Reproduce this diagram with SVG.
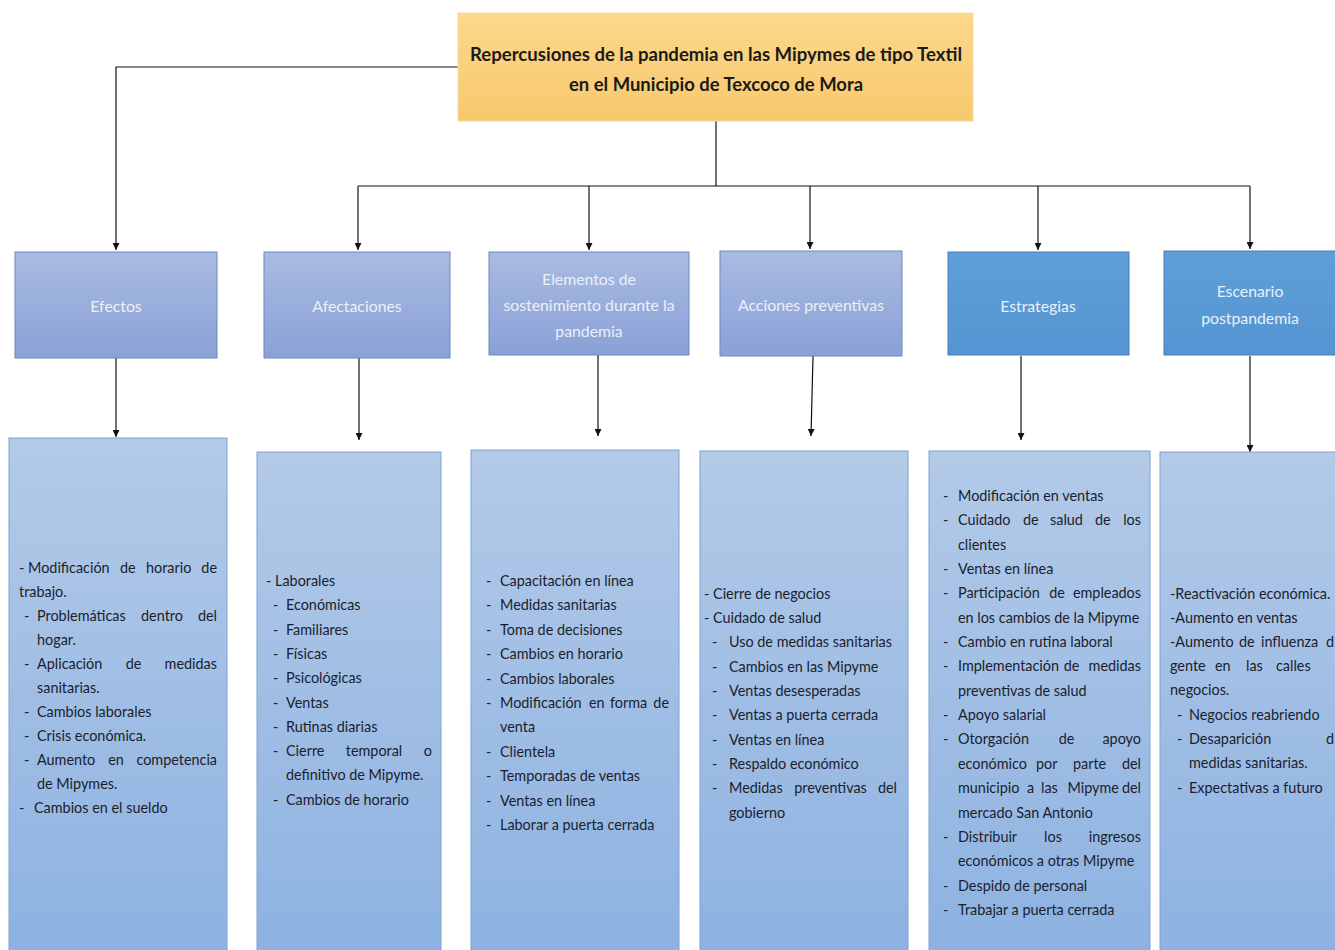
<svg xmlns="http://www.w3.org/2000/svg" width="1335" height="950" viewBox="0 0 1335 950">
<defs>
<linearGradient id="gTitle" x1="0" y1="0" x2="0" y2="1"><stop offset="0" stop-color="#FCD88A"/><stop offset="1" stop-color="#F8C86E"/></linearGradient>
<linearGradient id="gLav" x1="0" y1="0" x2="0" y2="1"><stop offset="0" stop-color="#A9BBE2"/><stop offset="1" stop-color="#8AA1D7"/></linearGradient>
<linearGradient id="gBlue" x1="0" y1="0" x2="0" y2="1"><stop offset="0" stop-color="#5F9FD8"/><stop offset="1" stop-color="#5494D2"/></linearGradient>
<linearGradient id="gBody" x1="0" y1="0" x2="0" y2="1"><stop offset="0" stop-color="#B3CAE8"/><stop offset="1" stop-color="#8DB2E1"/></linearGradient>
<marker id="arr" viewBox="0 0 10 10" refX="10" refY="5" markerWidth="7" markerHeight="7" orient="auto" markerUnits="userSpaceOnUse"><path d="M0,0 L10,5 L0,10 z" fill="#111"/></marker>
</defs>
<style>
.title{font-family:Lato,"Liberation Sans",sans-serif;font-weight:bold;font-size:19px;fill:#1a1a1a;text-anchor:middle}
.head{font-family:Lato,"Liberation Sans",sans-serif;font-size:15.8px;fill:#EBF0F9;text-anchor:middle}
.body{font-family:Lato,"Liberation Sans",sans-serif;font-size:14.4px;fill:#1B1E2E}
.e{text-anchor:end}
.m{text-anchor:middle}
.lav{fill:url(#gLav);stroke:#6F88BE;stroke-width:1}
.blue{fill:url(#gBlue);stroke:#4A7FB5;stroke-width:1}
.bx{fill:url(#gBody);stroke:#7FA2D2;stroke-width:1}
.c{fill:none;stroke:#111;stroke-width:1.2}
</style>
<rect width="1335" height="950" fill="#FFFFFF"/>

<g id="connectors">
<path class="c" d="M458,67 H116 V250" marker-end="url(#arr)"/>
<path class="c" d="M716,121 V186"/>
<path class="c" d="M358,186 H716"/>
<path class="c" d="M716,186 H1250" stroke-width="2"/>
<path class="c" d="M358,186 V250" marker-end="url(#arr)"/>
<path class="c" d="M589,186 V250" marker-end="url(#arr)"/>
<path class="c" d="M810,186 V249" marker-end="url(#arr)"/>
<path class="c" d="M1038,186 V250" marker-end="url(#arr)"/>
<path class="c" d="M1250,186 V249" marker-end="url(#arr)"/>
<path class="c" d="M116,358 V437" marker-end="url(#arr)"/>
<path class="c" d="M359,358 V440" marker-end="url(#arr)"/>
<path class="c" d="M598,355 V436" marker-end="url(#arr)"/>
<path class="c" d="M813,356 L811,436" marker-end="url(#arr)"/>
<path class="c" d="M1021,356 V440" marker-end="url(#arr)"/>
<path class="c" d="M1250,356 V452" marker-end="url(#arr)"/>
</g>

<g id="title">
<rect x="458" y="13" width="515" height="108" fill="url(#gTitle)" stroke="#F3DC9E" stroke-width="1"/>
<text class="title" x="716" y="61" textLength="492" lengthAdjust="spacingAndGlyphs">Repercusiones de la pandemia en las Mipymes de tipo Textil</text>
<text class="title" x="716" y="91" textLength="294" lengthAdjust="spacingAndGlyphs">en el Municipio de Texcoco de Mora</text>
</g>

<g id="h-efectos"><rect class="lav" x="15" y="252" width="202" height="106"/><text class="head" x="116" y="312">Efectos</text></g>
<g id="h-afectaciones"><rect class="lav" x="264" y="252" width="186" height="106"/><text class="head" x="357" y="312">Afectaciones</text></g>
<g id="h-elementos"><rect class="lav" x="489" y="252" width="200" height="103"/>
<text class="head" x="589" y="285">Elementos de</text><text class="head" x="589" y="311">sostenimiento durante la</text><text class="head" x="589" y="337">pandemia</text></g>
<g id="h-acciones"><rect class="lav" x="720" y="251" width="182" height="105"/><text class="head" x="811" y="311">Acciones preventivas</text></g>
<g id="h-estrategias"><rect class="blue" x="948" y="252" width="181" height="103"/><text class="head" x="1038" y="312">Estrategias</text></g>
<g id="h-escenario"><rect class="blue" x="1164" y="251" width="175" height="104"/><text class="head" x="1250" y="297">Escenario</text><text class="head" x="1250" y="324">postpandemia</text></g>

<g id="b-efectos"><rect class="bx" x="9" y="438" width="218" height="515"/>
<text class="body" x="19" y="573">- Modificación</text><text class="body" x="120" y="573">de</text><text class="body" x="146" y="573">horario</text><text class="body e" x="217" y="573">de</text>
<text class="body" x="19" y="597">trabajo.</text>
<text class="body" x="24" y="621">-</text><text class="body" x="37" y="621">Problemáticas</text><text class="body m" x="162" y="621">dentro</text><text class="body e" x="217" y="621">del</text>
<text class="body" x="37" y="645">hogar.</text>
<text class="body" x="24" y="669">-</text><text class="body" x="37" y="669">Aplicación</text><text class="body m" x="133.5" y="669">de</text><text class="body e" x="217" y="669">medidas</text>
<text class="body" x="37" y="693">sanitarias.</text>
<text class="body" x="24" y="717">-</text><text class="body" x="37" y="717">Cambios laborales</text>
<text class="body" x="24" y="741">-</text><text class="body" x="37" y="741">Crisis económica.</text>
<text class="body" x="24" y="765">-</text><text class="body" x="37" y="765">Aumento</text><text class="body m" x="116" y="765">en</text><text class="body e" x="217" y="765">competencia</text>
<text class="body" x="37" y="789">de Mipymes.</text>
<text class="body" x="19" y="813">-</text><text class="body" x="34" y="813">Cambios en el sueldo</text>
</g>

<g id="b-afectaciones"><rect class="bx" x="257" y="452" width="184" height="501"/>
<text class="body" x="266" y="586">- Laborales</text>
<text class="body" x="273" y="610">-</text><text class="body" x="286" y="610">Económicas</text>
<text class="body" x="273" y="635">-</text><text class="body" x="286" y="635">Familiares</text>
<text class="body" x="273" y="659">-</text><text class="body" x="286" y="659">Físicas</text>
<text class="body" x="273" y="683">-</text><text class="body" x="286" y="683">Psicológicas</text>
<text class="body" x="273" y="708">-</text><text class="body" x="286" y="708">Ventas</text>
<text class="body" x="273" y="732">-</text><text class="body" x="286" y="732">Rutinas diarias</text>
<text class="body" x="273" y="756">-</text><text class="body" x="286" y="756">Cierre</text><text class="body m" x="374" y="756">temporal</text><text class="body e" x="432" y="756">o</text>
<text class="body" x="286" y="780">definitivo de Mipyme.</text>
<text class="body" x="273" y="805">-</text><text class="body" x="286" y="805">Cambios de horario</text>
</g>

<g id="b-elementos"><rect class="bx" x="471" y="450" width="208" height="503"/>
<text class="body" x="486" y="586">-</text><text class="body" x="500" y="586">Capacitación en línea</text>
<text class="body" x="486" y="610">-</text><text class="body" x="500" y="610">Medidas sanitarias</text>
<text class="body" x="486" y="635">-</text><text class="body" x="500" y="635">Toma de decisiones</text>
<text class="body" x="486" y="659">-</text><text class="body" x="500" y="659">Cambios en horario</text>
<text class="body" x="486" y="684">-</text><text class="body" x="500" y="684">Cambios laborales</text>
<text class="body" x="486" y="708">-</text><text class="body" x="500" y="708">Modificación</text><text class="body" x="589" y="708">en</text><text class="body" x="610" y="708">forma</text><text class="body e" x="669" y="708">de</text>
<text class="body" x="500" y="732">venta</text>
<text class="body" x="486" y="757">-</text><text class="body" x="500" y="757">Clientela</text>
<text class="body" x="486" y="781">-</text><text class="body" x="500" y="781">Temporadas de ventas</text>
<text class="body" x="486" y="806">-</text><text class="body" x="500" y="806">Ventas en línea</text>
<text class="body" x="486" y="830">-</text><text class="body" x="500" y="830">Laborar a puerta cerrada</text>
</g>

<g id="b-acciones"><rect class="bx" x="700" y="451" width="208" height="502"/>
<text class="body" x="704" y="599">- Cierre de negocios</text>
<text class="body" x="704" y="623">- Cuidado de salud</text>
<text class="body" x="712" y="647">-</text><text class="body" x="729" y="647">Uso de medidas sanitarias</text>
<text class="body" x="712" y="672">-</text><text class="body" x="729" y="672">Cambios en las Mipyme</text>
<text class="body" x="712" y="696">-</text><text class="body" x="729" y="696">Ventas desesperadas</text>
<text class="body" x="712" y="720">-</text><text class="body" x="729" y="720">Ventas a puerta cerrada</text>
<text class="body" x="712" y="745">-</text><text class="body" x="729" y="745">Ventas en línea</text>
<text class="body" x="712" y="769">-</text><text class="body" x="729" y="769">Respaldo económico</text>
<text class="body" x="712" y="793">-</text><text class="body" x="729" y="793">Medidas</text><text class="body m" x="830.5" y="793">preventivas</text><text class="body e" x="897" y="793">del</text>
<text class="body" x="729" y="818">gobierno</text>
</g>

<g id="b-estrategias"><rect class="bx" x="929" y="451" width="221" height="502"/>
<text class="body" x="943" y="501">-</text><text class="body" x="958" y="501">Modificación en ventas</text>
<text class="body" x="943" y="525">-</text><text class="body" x="958" y="525">Cuidado</text><text class="body" x="1023" y="525">de</text><text class="body" x="1050" y="525">salud</text><text class="body" x="1095" y="525">de</text><text class="body e" x="1141" y="525">los</text>
<text class="body" x="958" y="550">clientes</text>
<text class="body" x="943" y="574">-</text><text class="body" x="958" y="574">Ventas en línea</text>
<text class="body" x="943" y="598">-</text><text class="body" x="958" y="598">Participación</text><text class="body m" x="1057" y="598">de</text><text class="body e" x="1141" y="598">empleados</text>
<text class="body" x="958" y="623">en los cambios de la Mipyme</text>
<text class="body" x="943" y="647">-</text><text class="body" x="958" y="647">Cambio en rutina laboral</text>
<text class="body" x="943" y="671">-</text><text class="body" x="958" y="671">Implementación</text><text class="body m" x="1071.5" y="671">de</text><text class="body e" x="1141" y="671">medidas</text>
<text class="body" x="958" y="696">preventivas de salud</text>
<text class="body" x="943" y="720">-</text><text class="body" x="958" y="720">Apoyo salarial</text>
<text class="body" x="943" y="744">-</text><text class="body" x="958" y="744">Otorgación</text><text class="body m" x="1066.5" y="744">de</text><text class="body e" x="1141" y="744">apoyo</text>
<text class="body" x="958" y="769">económico</text><text class="body" x="1036" y="769">por</text><text class="body" x="1073" y="769">parte</text><text class="body e" x="1141" y="769">del</text>
<text class="body" x="958" y="793">municipio</text><text class="body" x="1027" y="793">a</text><text class="body" x="1041" y="793">las</text><text class="body" x="1067.5" y="793">Mipyme</text><text class="body e" x="1141" y="793">del</text>
<text class="body" x="958" y="818">mercado San Antonio</text>
<text class="body" x="943" y="842">-</text><text class="body" x="958" y="842">Distribuir</text><text class="body m" x="1053" y="842">los</text><text class="body e" x="1141" y="842">ingresos</text>
<text class="body" x="958" y="866">económicos a otras Mipyme</text>
<text class="body" x="943" y="891">-</text><text class="body" x="958" y="891">Despido de personal</text>
<text class="body" x="943" y="915">-</text><text class="body" x="958" y="915">Trabajar a puerta cerrada</text>
</g>

<g id="b-escenario"><rect class="bx" x="1160" y="452" width="180" height="501"/>
<text class="body" x="1170" y="599">-Reactivación económica.</text>
<text class="body" x="1170" y="623">-Aumento en ventas</text>
<text class="body" x="1170" y="647">-Aumento</text><text class="body" x="1239" y="647">de</text><text class="body" x="1261" y="647">influenza</text><text class="body e" x="1334" y="647">d</text>
<text class="body" x="1170" y="671">gente</text><text class="body" x="1215" y="671">en</text><text class="body" x="1246" y="671">las</text><text class="body" x="1276" y="671">calles</text>
<text class="body" x="1170" y="695">negocios.</text>
<text class="body" x="1177" y="720">-</text><text class="body" x="1189" y="720">Negocios reabriendo</text>
<text class="body" x="1177" y="744">-</text><text class="body" x="1189" y="744">Desaparición</text><text class="body e" x="1334" y="744">d</text>
<text class="body" x="1189" y="768">medidas sanitarias.</text>
<text class="body" x="1177" y="793">-</text><text class="body" x="1189" y="793">Expectativas a futuro</text>
</g>
</svg>
